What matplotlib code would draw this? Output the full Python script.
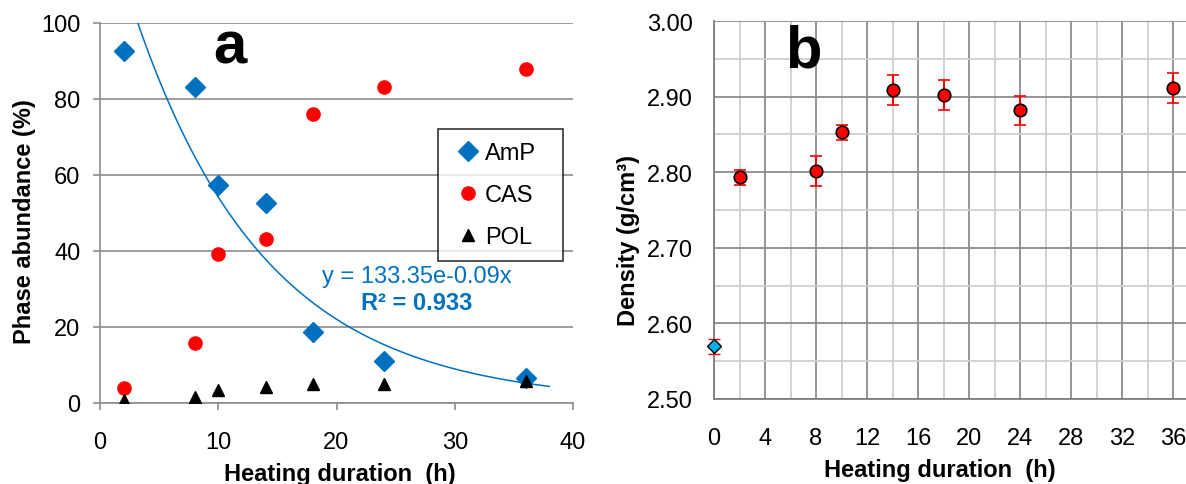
import numpy as np
import matplotlib
matplotlib.use("Agg")
import matplotlib.pyplot as plt
from matplotlib.ticker import MultipleLocator

plt.rcParams['font.family'] = ['Liberation Sans', 'DejaVu Sans']

# ---------------- data: panel a ----------------
x_a = [2, 8, 10, 14, 18, 24, 36]
amp = [92.7, 83.2, 57.4, 52.6, 18.8, 11.1, 6.6]
cas = [3.9, 15.7, 39.2, 43.2, 76.1, 83.2, 87.9]
pol = [0.8, 1.6, 3.5, 4.3, 5.0, 5.0, 5.9]
fit_a, fit_b = 133.35, -0.09
fit_range = (2, 38)

# ---------------- data: panel b ----------------
x_b0 = [0]
dens_b0 = [2.570]
err_b0 = [0.010]
x_b = [2, 8, 10, 14, 18, 24, 36]
dens_b = [2.793, 2.802, 2.853, 2.909, 2.902, 2.882, 2.911]
err_b = [0.010, 0.020, 0.010, 0.020, 0.020, 0.019, 0.020]

W, H = 1186, 485
fig = plt.figure(figsize=(W / 100, H / 100), dpi=100)

def px(x0, y0, x1, y1):
    return [x0 / W, 1 - y1 / H, (x1 - x0) / W, (y1 - y0) / H]

grid_c = '#8c8c8c'
blue = '#0070C0'

# ---------------- panel a ----------------
ax = fig.add_axes(px(100, 24, 573, 404))
ax.set_xlim(0, 40)
ax.set_ylim(0, 100)
ax.set_xticks([0, 10, 20, 30, 40])
ax.set_yticks([0, 20, 40, 60, 80, 100])
ax.yaxis.grid(True, color=grid_c, lw=1.2)
ax.set_axisbelow(True)
for s in ['top', 'right']:
    ax.spines[s].set_visible(False)
for s in ['left', 'bottom']:
    ax.spines[s].set_color(grid_c)
    ax.spines[s].set_linewidth(1.2)
ax.tick_params(axis='x', direction='out', length=5, color=grid_c, width=1.2,
               labelsize=17, pad=15)
ax.tick_params(axis='y', direction='out', length=5, color=grid_c, width=1.2,
               labelsize=17, pad=9)

xf = np.linspace(fit_range[0], fit_range[1], 300)
ax.plot(xf, fit_a * np.exp(fit_b * xf), color=blue, lw=1.1, zorder=2)
ax.plot(x_a, amp, 'D', color=blue, ms=10, ls='none', label='AmP', zorder=3)
ax.plot(x_a, cas, 'o', color='#FF0000', ms=9.5, ls='none', label='CAS', zorder=3)
ax.plot(x_a, pol, '^', color='black', ms=8.5, ls='none', label='POL', zorder=4)

lx0 = (438 - 100) / 473
lw_ = (563 - 438) / 473
ly1 = (404 - 130) / 380
leg = ax.legend(loc='upper left', bbox_to_anchor=(lx0, ly1 - 0.5, lw_, 0.5),
                mode='expand', fontsize=17,
                frameon=True, fancybox=False, edgecolor='black',
                handlelength=1.4, handletextpad=0.05, borderpad=0.55,
                labelspacing=0.85, borderaxespad=0)
leg.get_frame().set_linewidth(1.2)

ax.text(18.8, 31.8, 'y = 133.35e-0.09x', color=blue, fontsize=17, va='baseline')
ax.text(22.1, 24.7, 'R² = 0.933', color=blue, fontsize=17, fontweight='bold',
        va='baseline')
ax.text(11, 89.7, 'a', fontsize=43, fontweight='bold', ha='center', va='baseline')

fig.text(25 / W, 1 - 222 / H, 'Phase abundance (%)', rotation=90, ha='center',
         va='center', fontsize=17, fontweight='bold')
fig.text(340 / W, 1 - 475 / H, 'Heating duration  (h)', ha='center', va='center',
         fontsize=17, fontweight='bold')

# ---------------- panel b ----------------
bx = fig.add_axes(px(714, 22, 1186, 400))
bx.set_xlim(0, (1186 - 714) / 12.75)
bx.set_ylim(2.5, 3.0)
bx.set_xticks(np.arange(0, 37, 4))
bx.set_yticks(np.arange(2.5, 3.001, 0.1))
bx.set_yticklabels([f'{v:.2f}' for v in np.arange(2.5, 3.001, 0.1)])
bx.xaxis.set_minor_locator(MultipleLocator(2))
bx.yaxis.set_minor_locator(MultipleLocator(0.05))
bx.grid(True, which='major', color='#8c8c8c', lw=1.3)
bx.grid(True, which='minor', color='#cfcfcf', lw=1.3)
bx.set_axisbelow(True)
for s in ['top', 'right']:
    bx.spines[s].set_visible(False)
for s in ['left', 'bottom']:
    bx.spines[s].set_color('#7f7f7f')
    bx.spines[s].set_linewidth(1.3)
bx.tick_params(axis='both', which='both', length=0, labelsize=17)
bx.tick_params(axis='x', pad=20.5)
bx.tick_params(axis='y', pad=15)

bx.errorbar(x_b0, dens_b0, yerr=err_b0, fmt='D', color='#00B0F0', mec='black',
            mew=1, ms=7, ecolor='#FF0000', elinewidth=1.5, capsize=4, capthick=1.5,
            zorder=3, clip_on=False)
bx.errorbar(x_b, dens_b, yerr=err_b, fmt='o', color='#FF0000', mec='black',
            mew=1.2, ms=9, ecolor='#FF0000', elinewidth=1.5, capsize=4,
            capthick=1.5, zorder=3)
bx.text(7.0, 2.940, 'b', fontsize=43, fontweight='bold', ha='center', va='baseline')

fig.text(628 / W, 1 - 240 / H, 'Density (g/cm³)', rotation=90, ha='center',
         va='center', fontsize=17, fontweight='bold')
fig.text(940 / W, 1 - 471 / H, 'Heating duration  (h)', ha='center', va='center',
         fontsize=17, fontweight='bold')

fig.savefig('out.png', dpi=100)
